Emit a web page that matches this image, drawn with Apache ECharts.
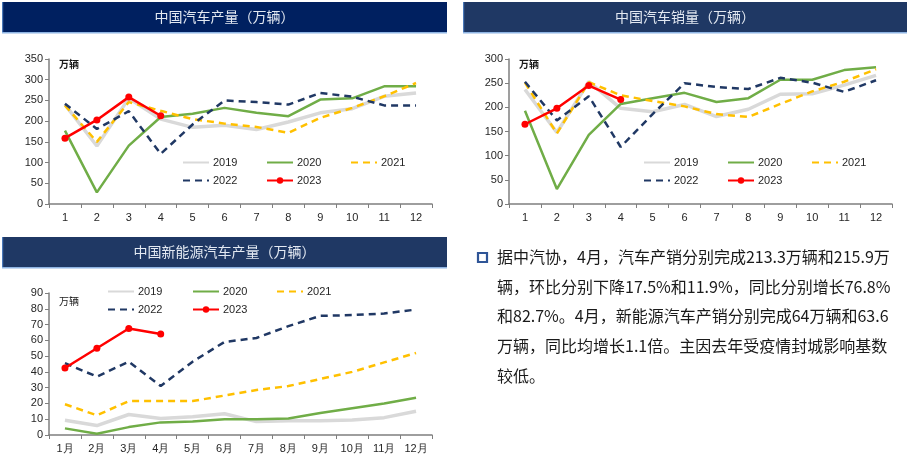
<!DOCTYPE html>
<html>
<head>
<meta charset="utf-8">
<script src="https://cdn.jsdelivr.net/npm/echarts@6/dist/echarts.min.js"></script>
<style>
html,body{margin:0;padding:0;background:#fff;}
#c{width:910px;height:463px;}
</style>
</head>
<body>
<div id="c"></div>
<script>
// ---- data ----
const years = ['2019','2020','2021','2022','2023'];
const monthNums = ['1','2','3','4','5','6','7','8','9','10','11','12'];
const monthsCN = ['1月','2月','3月','4月','5月','6月','7月','8月','9月','10月','11月','12月'];

// 中国汽车产量（万辆）
const prod2019 = [240,140,255,205,185,190,180,198,220,230,260,268];
const prod2020 = [177,28,141,210,218,232,220,212,252,255,284,284];
const prod2021 = [238,150,246,225,205,194,186,172,208,232,260,292];
const prod2022 = [242,181,224,121,192,250,246,240,268,259,238,238];
const prod2023 = [159,203,258,213];

// 中国汽车销量（万辆）
const sales2019 = [237,148,253,198,191,206,181,196,227,228,246,266];
const sales2020 = [193,31,143,207,219,230,211,219,257,257,277,283];
const sales2021 = [251,146,252,225,213,202,186,180,207,233,253,279];
const sales2022 = [253,173,223,118,186,250,242,238,261,251,232,256];
const sales2023 = [165,198,245,216];

// 中国新能源汽车产量（万辆）
const nev2019 = [9.3,6,13,10.5,11.5,13.5,8.5,9,9,9.5,11,15];
const nev2020 = [4.2,0.8,5,8,8.5,10,10,10.5,14,17,20,23.6];
const nev2021 = [19.5,12.5,21.5,21.5,21.5,25,28.5,31,35.5,40,46,52];
const nev2022 = [45.5,37,46.5,31,46.5,59,61.5,69,75.5,76,77,79.5];
const nev2023 = [42.5,55,67.5,64];

const titles = ['中国汽车产量（万辆）','中国汽车销量（万辆）','中国新能源汽车产量（万辆）'];
const unitLabel = '万辆';
const paragraphLines = [
  '据中汽协，4月，汽车产销分别完成213.3万辆和215.9万',
  '辆，环比分别下降17.5%和11.9%，同比分别增长76.8%',
  '和82.7%。4月，新能源汽车产销分别完成64万辆和63.6',
  '万辆，同比均增长1.1倍。主因去年受疫情封城影响基数',
  '较低。'
];

// ---- styles ----
const styles = {
  '2019': {color:'#d9d9d9', width:3.5, type:'solid', symbol:'none'},
  '2020': {color:'#70ad47', width:2.5, type:'solid', symbol:'none'},
  '2021': {color:'#ffc000', width:2.5, type:[7,5], symbol:'none'},
  '2022': {color:'#203864', width:2.5, type:[7,5], symbol:'none'},
  '2023': {color:'#ff0000', width:2.5, type:'solid', symbol:'circle'}
};

const panels = [
  {grid:{left:49, top:59, width:383, height:145}, cats:monthNums, max:350, interval:50,
   data:[prod2019,prod2020,prod2021,prod2022,prod2023],
   legendRows:[163,181], legendX:[182,266,350], unit:[59,64], unitBold:true},
  {grid:{left:509, top:59, width:383, height:145}, cats:monthNums, max:300, interval:50,
   data:[sales2019,sales2020,sales2021,sales2022,sales2023],
   legendRows:[163,181], legendX:[643,727,811], unit:[519,64], unitBold:true},
  {grid:{left:49, top:293, width:383, height:142}, cats:monthsCN, max:90, interval:10,
   data:[nev2019,nev2020,nev2021,nev2022,nev2023],
   legendRows:[292,310], legendX:[107,192,276], unit:[59,301], unitBold:false}
];

const axisColor = '#7f7f7f';
const labelColor = '#262626';
const grid = [], xAxis = [], yAxis = [], series = [], legend = [];

panels.forEach((p, i) => {
  grid.push(Object.assign({containLabel:false}, p.grid));
  xAxis.push({
    type:'category', gridIndex:i, data:p.cats, boundaryGap:true,
    axisLine:{show:true, lineStyle:{color:axisColor, width:1.5}},
    axisTick:{show:true, length:4, lineStyle:{color:axisColor}},
    axisLabel:{color:labelColor, fontSize:11, margin:8, fontFamily:'Liberation Sans, Arial', interval:0}
  });
  yAxis.push({
    type:'value', gridIndex:i, min:0, max:p.max, interval:p.interval,
    splitLine:{show:false},
    axisLine:{show:true, lineStyle:{color:axisColor, width:1.5}},
    axisTick:{show:true, length:4, lineStyle:{color:axisColor}},
    axisLabel:{color:labelColor, fontSize:11, margin:6, fontFamily:'Liberation Sans, Arial'}
  });
  years.forEach((y, k) => {
    const s = styles[y];
    series.push({
      name:y, type:'line', xAxisIndex:i, yAxisIndex:i, data:p.data[k],
      symbol:s.symbol, symbolSize:7, showSymbol:s.symbol !== 'none',
      lineStyle:{color:s.color, width:s.width, type:s.type},
      itemStyle:{color:s.color},
      z: y === '2023' ? 5 : (y === '2019' ? 1 : 2),
      animation:false
    });
    const row = k < 3 ? 0 : 1;
    const col = k < 3 ? k : k - 3;
    const lg = {
      data:[y], left:p.legendX[col], top:p.legendRows[row] - 6, padding:0,
      itemWidth:26, itemHeight:8, itemGap:0,
      textStyle:{fontSize:11, color:labelColor, fontFamily:'Liberation Sans, Arial', padding:[0,0,0,-1]},
      selectedMode:false
    };
    if (s.symbol === 'none') lg.itemStyle = {opacity:0};
    legend.push(lg);
  });
});

const graphic = [];
// title bars
const bars = [
  {x:2, y:2, w:445, h:30, fill:'#002060', text:titles[0]},
  {x:463, y:2, w:444, h:30, fill:'#1f3864', text:titles[1]},
  {x:2, y:237, w:445, h:30, fill:'#1f3864', text:titles[2]}
];
bars.forEach(b => {
  graphic.push({type:'rect', shape:{x:b.x, y:b.y, width:b.w, height:b.h}, style:{fill:b.fill}, silent:true});
  graphic.push({type:'rect', shape:{x:b.x, y:b.y + b.h, width:b.w, height:1.5}, style:{fill:'#8eb4e3'}, silent:true});
  graphic.push({type:'rect', shape:{x:b.x, y:b.y, width:1.2, height:b.h}, style:{fill:'#4a78b8'}, silent:true});
  graphic.push({type:'text', x:b.x + b.w/2, y:b.y + b.h/2,
    style:{text:b.text, fill:'#e3e9f2', font:'14px "Noto Sans CJK SC"', textAlign:'center', textVerticalAlign:'middle'}, silent:true});
});
// unit labels
panels.forEach(p => {
  graphic.push({type:'text', x:p.unit[0], y:p.unit[1],
    style:{text:unitLabel, fill:'#1a1a1a', font:(p.unitBold ? 'bold ' : '') + '10px "Noto Sans CJK SC"', textAlign:'left', textVerticalAlign:'middle'}, silent:true});
});
// paragraph bullet
graphic.push({type:'rect', shape:{x:478, y:253, width:9, height:9}, style:{fill:'#fff', stroke:'#2f5597', lineWidth:2.2}, silent:true});
paragraphLines.forEach((t, i) => {
  graphic.push({type:'text', x:497, y:257 + i*29.7,
    style:{text:t, fill:'#1a1a1a', font:'16px "Noto Sans CJK SC"', textAlign:'left', textVerticalAlign:'middle'}, silent:true});
});

const chart = echarts.init(document.getElementById('c'), null, {renderer:'canvas'});
chart.setOption({
  animation:false,
  backgroundColor:'#ffffff',
  grid, xAxis, yAxis, series, legend, graphic
});
</script>
</body>
</html>
